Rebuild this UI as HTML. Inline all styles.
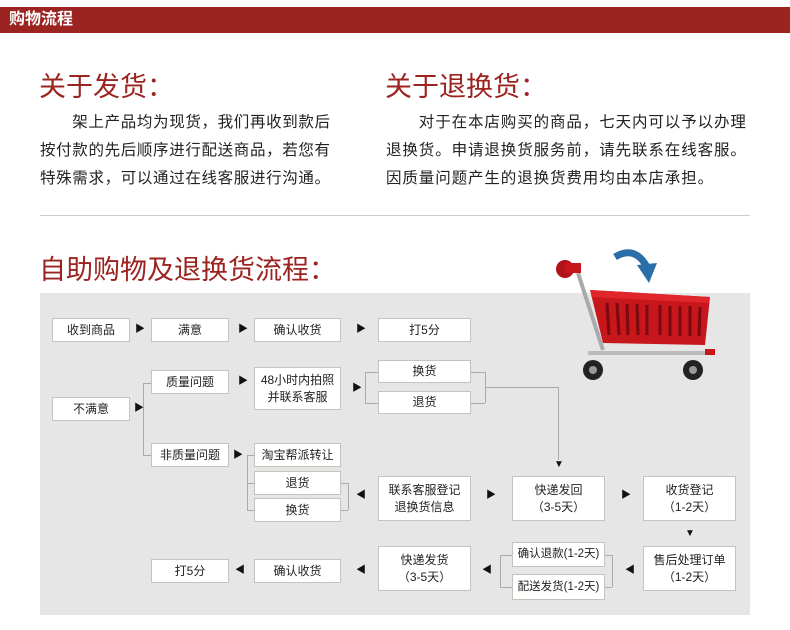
<!DOCTYPE html>
<html><head><meta charset="utf-8"><style>
*{margin:0;padding:0;box-sizing:border-box}
body{width:790px;height:630px;background:#fff;position:relative;overflow:hidden;font-family:"Liberation Sans","Noto Sans CJK SC",sans-serif;color:#222}
.a{position:absolute}
.bar{left:0;top:7px;width:790px;height:26px;background:#9b2320;color:#fff;font-weight:bold;font-size:16px;line-height:26px;padding-left:9px}
.h{font-size:27px;color:#9b2320;line-height:32px}
.p{font-size:15.5px;line-height:28px;color:#222;white-space:nowrap}
.g{left:40px;top:293px;width:710px;height:322px;background:#e6e6e6}
.b{position:absolute;background:#fff;border:1px solid #c8c2bc;font-size:12px;text-align:center;display:flex;align-items:center;justify-content:center;line-height:17px;color:#222}
.t{position:absolute;font-size:10px;color:#111;line-height:10px}
.l{position:absolute;background:#aaa}
</style></head><body>
<div class="a bar">购物流程</div>
<div class="a h" style="left:39px;top:71px">关于发货：</div>
<div class="a p" style="left:40px;top:109px;letter-spacing:0.65px">　　架上产品均为现货，我们再收到款后<br>按付款的先后顺序进行配送商品，若您有<br>特殊需求，可以通过在线客服进行沟通。</div>
<div class="a h" style="left:385px;top:71px">关于退换货：</div>
<div class="a p" style="left:386px;top:109px;letter-spacing:0.9px">　　对于在本店购买的商品，七天内可以予以办理<br>退换货。申请退换货服务前，请先联系在线客服。<br>因质量问题产生的退换货费用均由本店承担。</div>
<div class="a" style="left:40px;top:215px;width:710px;height:1px;background:#ccc"></div>
<div class="a h" style="left:39px;top:254px">自助购物及退换货流程：</div>
<div class="a g"></div>
<svg class="a" style="left:545px;top:245px" width="175" height="145" viewBox="0 0 175 145">
<path d="M70 12 Q90 0 102 22" stroke="#2a6fa8" stroke-width="7" fill="none"/>
<polygon points="92,20 112,18 104,38" fill="#2a6fa8"/>
<line x1="33" y1="28" x2="58" y2="105" stroke="#aaa" stroke-width="4"/>
<path d="M45 45 L165 52 L160 100 L58 98 Z" fill="#c8161d"/>
<path d="M45 45 L165 52 L164 58 L47 52 Z" fill="#e0262b"/>
<g stroke="#7a0a0e" stroke-width="3">
<line x1="62" y1="58" x2="64" y2="90"/><line x1="72" y1="58" x2="74" y2="90"/><line x1="82" y1="59" x2="83" y2="90"/><line x1="92" y1="59" x2="93" y2="90"/><line x1="102" y1="60" x2="102" y2="90"/><line x1="115" y1="60" x2="115" y2="90"/><line x1="125" y1="61" x2="125" y2="91"/><line x1="135" y1="61" x2="135" y2="91"/><line x1="145" y1="61" x2="145" y2="91"/><line x1="155" y1="62" x2="154" y2="91"/>
</g>
<rect x="43" y="106" width="120" height="4" fill="#bbb"/>
<rect x="160" y="104" width="10" height="6" fill="#c8161d"/>
<circle cx="20" cy="24" r="9" fill="#b01218"/><rect x="20" y="18" width="16" height="10" fill="#c8161d"/>
<circle cx="48" cy="125" r="10" fill="#222"/><circle cx="48" cy="125" r="4" fill="#999"/>
<circle cx="148" cy="125" r="10" fill="#222"/><circle cx="148" cy="125" r="4" fill="#999"/>
</svg>

<div class="b" style="left:52px;top:318px;width:78px;height:24px">收到商品</div>
<div class="t" style="left:135px;top:325px">▶</div>
<div class="b" style="left:151px;top:318px;width:78px;height:24px">满意</div>
<div class="t" style="left:238px;top:325px">▶</div>
<div class="b" style="left:254px;top:318px;width:87px;height:24px">确认收货</div>
<div class="t" style="left:356px;top:325px">▶</div>
<div class="b" style="left:378px;top:318px;width:93px;height:24px">打5分</div>

<div class="b" style="left:52px;top:397px;width:78px;height:24px">不满意</div>
<div class="t" style="left:134px;top:404px">▶</div>
<div class="l" style="left:143px;top:383px;width:1px;height:72px"></div>
<div class="l" style="left:143px;top:383px;width:8px;height:1px"></div>
<div class="l" style="left:143px;top:455px;width:8px;height:1px"></div>
<div class="b" style="left:151px;top:370px;width:78px;height:24px">质量问题</div>
<div class="t" style="left:238px;top:377px">▶</div>
<div class="b" style="left:254px;top:367px;width:87px;height:43px">48小时内拍照<br>并联系客服</div>
<div class="t" style="left:352px;top:384px">▶</div>
<div class="l" style="left:365px;top:372px;width:1px;height:31px"></div>
<div class="l" style="left:365px;top:372px;width:13px;height:1px"></div>
<div class="l" style="left:365px;top:403px;width:13px;height:1px"></div>
<div class="b" style="left:378px;top:360px;width:93px;height:23px">换货</div>
<div class="b" style="left:378px;top:391px;width:93px;height:23px">退货</div>
<div class="l" style="left:471px;top:372px;width:14px;height:1px"></div>
<div class="l" style="left:471px;top:403px;width:14px;height:1px"></div>
<div class="l" style="left:485px;top:372px;width:1px;height:31px"></div>
<div class="l" style="left:485px;top:387px;width:73px;height:1px"></div>
<div class="l" style="left:558px;top:387px;width:1px;height:73px"></div>
<div class="t" style="left:554px;top:460px">▼</div>

<div class="b" style="left:151px;top:443px;width:78px;height:24px">非质量问题</div>
<div class="t" style="left:233px;top:451px">▶</div>
<div class="l" style="left:247px;top:455px;width:1px;height:55px"></div>
<div class="l" style="left:247px;top:455px;width:7px;height:1px"></div>
<div class="l" style="left:247px;top:483px;width:7px;height:1px"></div>
<div class="l" style="left:247px;top:510px;width:7px;height:1px"></div>
<div class="b" style="left:254px;top:443px;width:87px;height:24px">淘宝帮派转让</div>
<div class="b" style="left:254px;top:471px;width:87px;height:24px">退货</div>
<div class="b" style="left:254px;top:498px;width:87px;height:24px">换货</div>
<div class="l" style="left:341px;top:483px;width:7px;height:1px"></div>
<div class="l" style="left:341px;top:510px;width:7px;height:1px"></div>
<div class="l" style="left:348px;top:483px;width:1px;height:27px"></div>
<div class="t" style="left:356px;top:491px">◀</div>
<div class="b" style="left:378px;top:476px;width:93px;height:45px">联系客服登记<br>退换货信息</div>
<div class="t" style="left:486px;top:491px">▶</div>
<div class="b" style="left:512px;top:476px;width:93px;height:45px">快递发回<br>（3-5天）</div>
<div class="t" style="left:621px;top:491px">▶</div>
<div class="b" style="left:643px;top:476px;width:93px;height:45px">收货登记<br>（1-2天）</div>
<div class="t" style="left:685px;top:529px">▼</div>
<div class="b" style="left:643px;top:546px;width:93px;height:45px">售后处理订单<br>（1-2天）</div>
<div class="t" style="left:625px;top:566px">◀</div>
<div class="l" style="left:605px;top:555px;width:7px;height:1px"></div>
<div class="l" style="left:605px;top:587px;width:7px;height:1px"></div>
<div class="l" style="left:612px;top:555px;width:1px;height:32px"></div>
<div class="b" style="left:512px;top:542px;width:93px;height:25px;font-size:11.5px">确认退款(1-2天)</div>
<div class="b" style="left:512px;top:574px;width:93px;height:26px;font-size:11.5px">配送发货(1-2天)</div>
<div class="l" style="left:500px;top:555px;width:12px;height:1px"></div>
<div class="l" style="left:500px;top:587px;width:12px;height:1px"></div>
<div class="l" style="left:500px;top:555px;width:1px;height:32px"></div>
<div class="t" style="left:482px;top:566px">◀</div>
<div class="b" style="left:378px;top:546px;width:93px;height:45px">快递发货<br>（3-5天）</div>
<div class="t" style="left:356px;top:566px">◀</div>
<div class="b" style="left:254px;top:559px;width:87px;height:24px">确认收货</div>
<div class="t" style="left:235px;top:566px">◀</div>
<div class="b" style="left:151px;top:559px;width:78px;height:24px">打5分</div>
</body></html>
